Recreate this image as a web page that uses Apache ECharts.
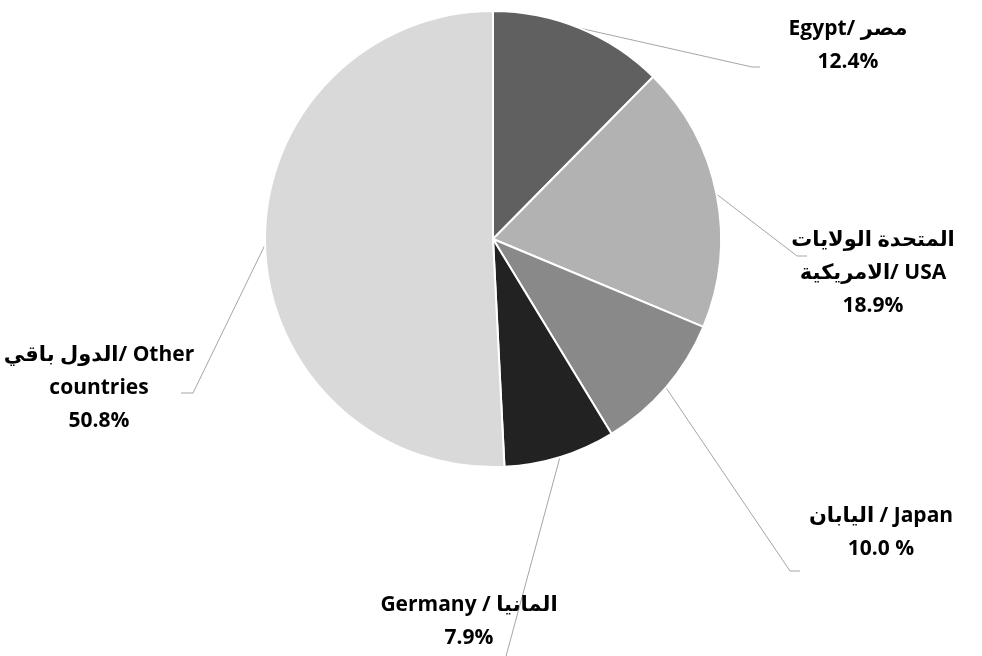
<!DOCTYPE html>
<html>
<head>
<meta charset="utf-8">
<script src="https://cdn.jsdelivr.net/npm/echarts@6/dist/echarts.min.js"></script>
<style>
  html, body { margin: 0; padding: 0; background: #fff; }
  #main { width: 982px; height: 656px; }
</style>
</head>
<body>
<div id="main"></div>
<script>
// slice names (as shown on the chart), values in %, and the printed percent text
var names = [
  'Egypt/ مصر',
  'المتحدة الولايات\nالامريكية/ USA',
  'اليابان / Japan',
  'Germany / المانيا',
  'الدول باقي/ Other\ncountries'
];
var values = [12.4, 18.9, 10.0, 7.9, 50.8];
var pctText = ['12.4%', '18.9%', '10.0 %', '7.9%', '50.8%'];
var colors = ['#606060', '#b2b2b2', '#898989', '#222222', '#d9d9d9'];

// where each label sits and where its leader line bends (layout only)
var labelPos = [
  { x: 848, y: 46,  bend: [[752, 67], [760, 67]] },
  { x: 873, y: 273, bend: [[797, 256], [807, 256]] },
  { x: 881, y: 533, bend: [[790, 571], [800, 571]] },
  { x: 469, y: 622, bend: [[505, 660], [505, 660]] },
  { x: 99,  y: 388, bend: [[193, 393], [181, 393]] }
];

var chart = echarts.init(document.getElementById('main'));

var option = {
  animation: false,
  backgroundColor: '#ffffff',
  series: [{
    type: 'pie',
    center: [493, 239],
    radius: 228,
    startAngle: 90,
    clockwise: true,
    avoidLabelOverlap: false,
    itemStyle: {
      borderColor: '#ffffff',
      borderWidth: 2
    },
    label: {
      show: true,
      position: 'outside',
      formatter: function (p) {
        return names[p.dataIndex] + '\n' + pctText[p.dataIndex];
      },
      fontFamily: "'Open Sans', 'DejaVu Sans', sans-serif",
      fontWeight: 'bold',
      fontSize: 21,
      lineHeight: 33,
      color: '#000000',
      align: 'center'
    },
    labelLine: {
      show: true,
      length: 20,
      length2: 10,
      lineStyle: { color: '#a6a6a6', width: 1 }
    },
    labelLayout: function (params) {
      var pos = labelPos[params.dataIndex];
      var start = params.labelLinePoints ? params.labelLinePoints[0] : [0, 0];
      return {
        x: pos.x,
        y: pos.y,
        align: 'center',
        verticalAlign: 'middle',
        labelLinePoints: [start, pos.bend[0], pos.bend[1]]
      };
    },
    data: names.map(function (n, i) {
      return { name: n, value: values[i], itemStyle: { color: colors[i] } };
    })
  }]
};

chart.setOption(option);
</script>
</body>
</html>
